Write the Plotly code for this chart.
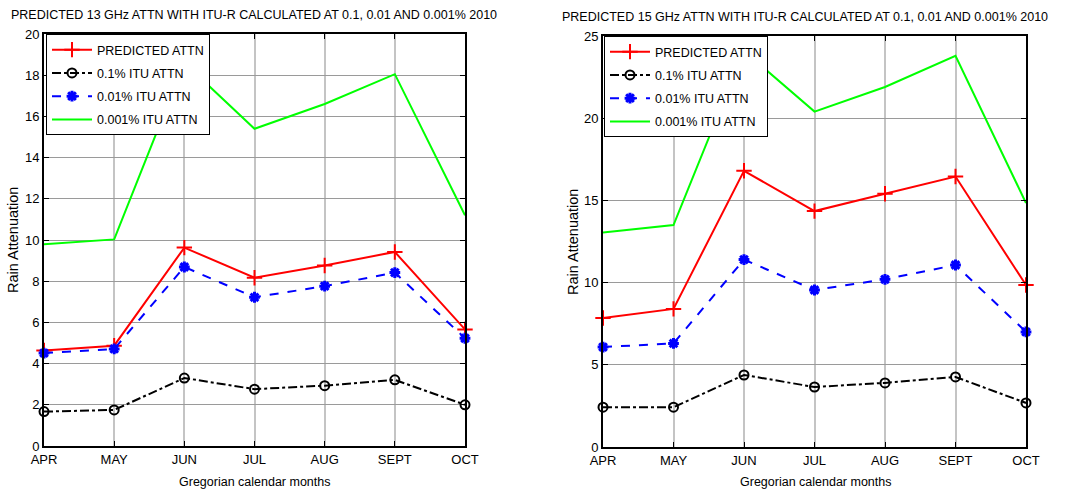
import plotly.graph_objects as go

months = ["APR", "MAY", "JUN", "JUL", "AUG", "SEPT", "OCT"]

# 13 GHz link, 2010
pred_13 = [4.64, 4.87, 9.63, 8.17, 8.76, 9.42, 5.66]
itu01_13 = [1.67, 1.75, 3.30, 2.76, 2.93, 3.21, 2.00]
itu001_13 = [4.51, 4.71, 8.69, 7.22, 7.76, 8.42, 5.23]
itu0001_13 = [9.79, 10.03, 18.6, 15.4, 16.6, 18.05, 11.2]

# 15 GHz link, 2010
pred_15 = [7.85, 8.4, 16.8, 14.35, 15.4, 16.45, 9.85]
itu01_15 = [2.42, 2.42, 4.38, 3.65, 3.9, 4.26, 2.68]
itu001_15 = [6.08, 6.3, 11.4, 9.55, 10.2, 11.07, 7.0]
itu0001_15 = [13.05, 13.5, 24.1, 20.4, 21.9, 23.8, 14.84]

series_names = ["PREDICTED ATTN", "0.1% ITU ATTN", "0.01% ITU ATTN", "0.001% ITU ATTN"]

W, H = 1068, 491
FONT = "Arial, Liberation Sans, sans-serif"

styles = [
    dict(line=dict(color="#ff0000", width=2), mode="lines+markers",
         marker=dict(symbol="cross-thin-open", size=11, color="#ff0000",
                     line=dict(color="#ff0000", width=2))),
    dict(line=dict(color="black", width=2, dash="dashdot"), mode="lines+markers",
         marker=dict(symbol="circle-open", size=9, color="black",
                     line=dict(color="black", width=2))),
    dict(line=dict(color="#0000ff", width=2, dash="dash"), mode="lines+markers",
         marker=dict(symbol="asterisk-open", size=9, color="#0000ff",
                     line=dict(color="#0000ff", width=3))),
    dict(line=dict(color="#00ff00", width=2), mode="lines"),
]

fig = go.Figure()

panels = [
    ("x", "y", "legend", [pred_13, itu01_13, itu001_13, itu0001_13]),
    ("x2", "y2", "legend2", [pred_15, itu01_15, itu001_15, itu0001_15]),
]
for xa, ya, lg, data in panels:
    for i, (name, vals, st) in enumerate(zip(series_names, data, styles)):
        fig.add_trace(go.Scatter(
            x=months, y=vals, name=name, xaxis=xa, yaxis=ya, legend=lg,
            legendgroup=f"{lg}-{i}", cliponaxis=False, **st))


def px_x(p):
    return p / W


def px_y(p):
    return 1 - p / H


axis_common = dict(
    showline=True, linecolor="black", linewidth=2, mirror="allticks",
    ticks="inside", ticklen=5, tickcolor="black", tickwidth=1,
    tickfont=dict(family=FONT, size=13, color="black"),
    zeroline=False, showgrid=True, automargin=False,
)

legend_common = dict(
    xanchor="left", yanchor="top",
    bgcolor="white", bordercolor="black", borderwidth=1,
    font=dict(family=FONT, size=12.5, color="black"),
    traceorder="grouped", tracegroupgap=4, itemwidth=40,
)

fig.update_layout(
    template="none",
    width=W, height=H,
    margin=dict(l=0, r=0, t=0, b=0, pad=0),
    paper_bgcolor="white", plot_bgcolor="white",
    font=dict(family=FONT, size=12, color="black"),
    xaxis=dict(domain=[px_x(44), px_x(465)], anchor="y", type="category",
               range=[0, 6], gridcolor="#c4c4c4", gridwidth=2, **axis_common),
    yaxis=dict(domain=[px_y(446), px_y(34)], anchor="x", range=[0, 20],
               dtick=2, gridcolor="#9a9a9a", gridwidth=1, **axis_common),
    xaxis2=dict(domain=[px_x(603), px_x(1026)], anchor="y2", type="category",
                range=[0, 6], gridcolor="#c4c4c4", gridwidth=2, **axis_common),
    yaxis2=dict(domain=[px_y(447), px_y(36)], anchor="x2", range=[0, 25],
                dtick=5, gridcolor="#9a9a9a", gridwidth=1, **axis_common),
    legend=dict(x=px_x(46), y=px_y(34), **legend_common),
    legend2=dict(x=px_x(604), y=px_y(36), **legend_common),
    showlegend=True,
)

annotations = [
    dict(text="PREDICTED 13 GHz ATTN WITH ITU-R CALCULATED AT 0.1, 0.01 AND 0.001% 2010",
         x=px_x(254), y=px_y(15), size=12.5, angle=0),
    dict(text="PREDICTED 15 GHz ATTN WITH ITU-R CALCULATED AT 0.1, 0.01 AND 0.001% 2010",
         x=px_x(805), y=px_y(17), size=12.5, angle=0),
    dict(text="Gregorian calendar months", x=px_x(254), y=px_y(482), size=12.5, angle=0),
    dict(text="Gregorian calendar months", x=px_x(815), y=px_y(482), size=12.5, angle=0),
    dict(text="Rain Attenuation", x=px_x(13), y=px_y(240), size=14.5, angle=-90),
    dict(text="Rain Attenuation", x=px_x(573), y=px_y(242), size=14.5, angle=-90),
]
for a in annotations:
    fig.add_annotation(xref="paper", yref="paper", showarrow=False,
                       xanchor="center", yanchor="middle", text=a["text"],
                       x=a["x"], y=a["y"], textangle=a["angle"],
                       font=dict(family=FONT, size=a["size"], color="black"))

fig.write_html("out.html")
